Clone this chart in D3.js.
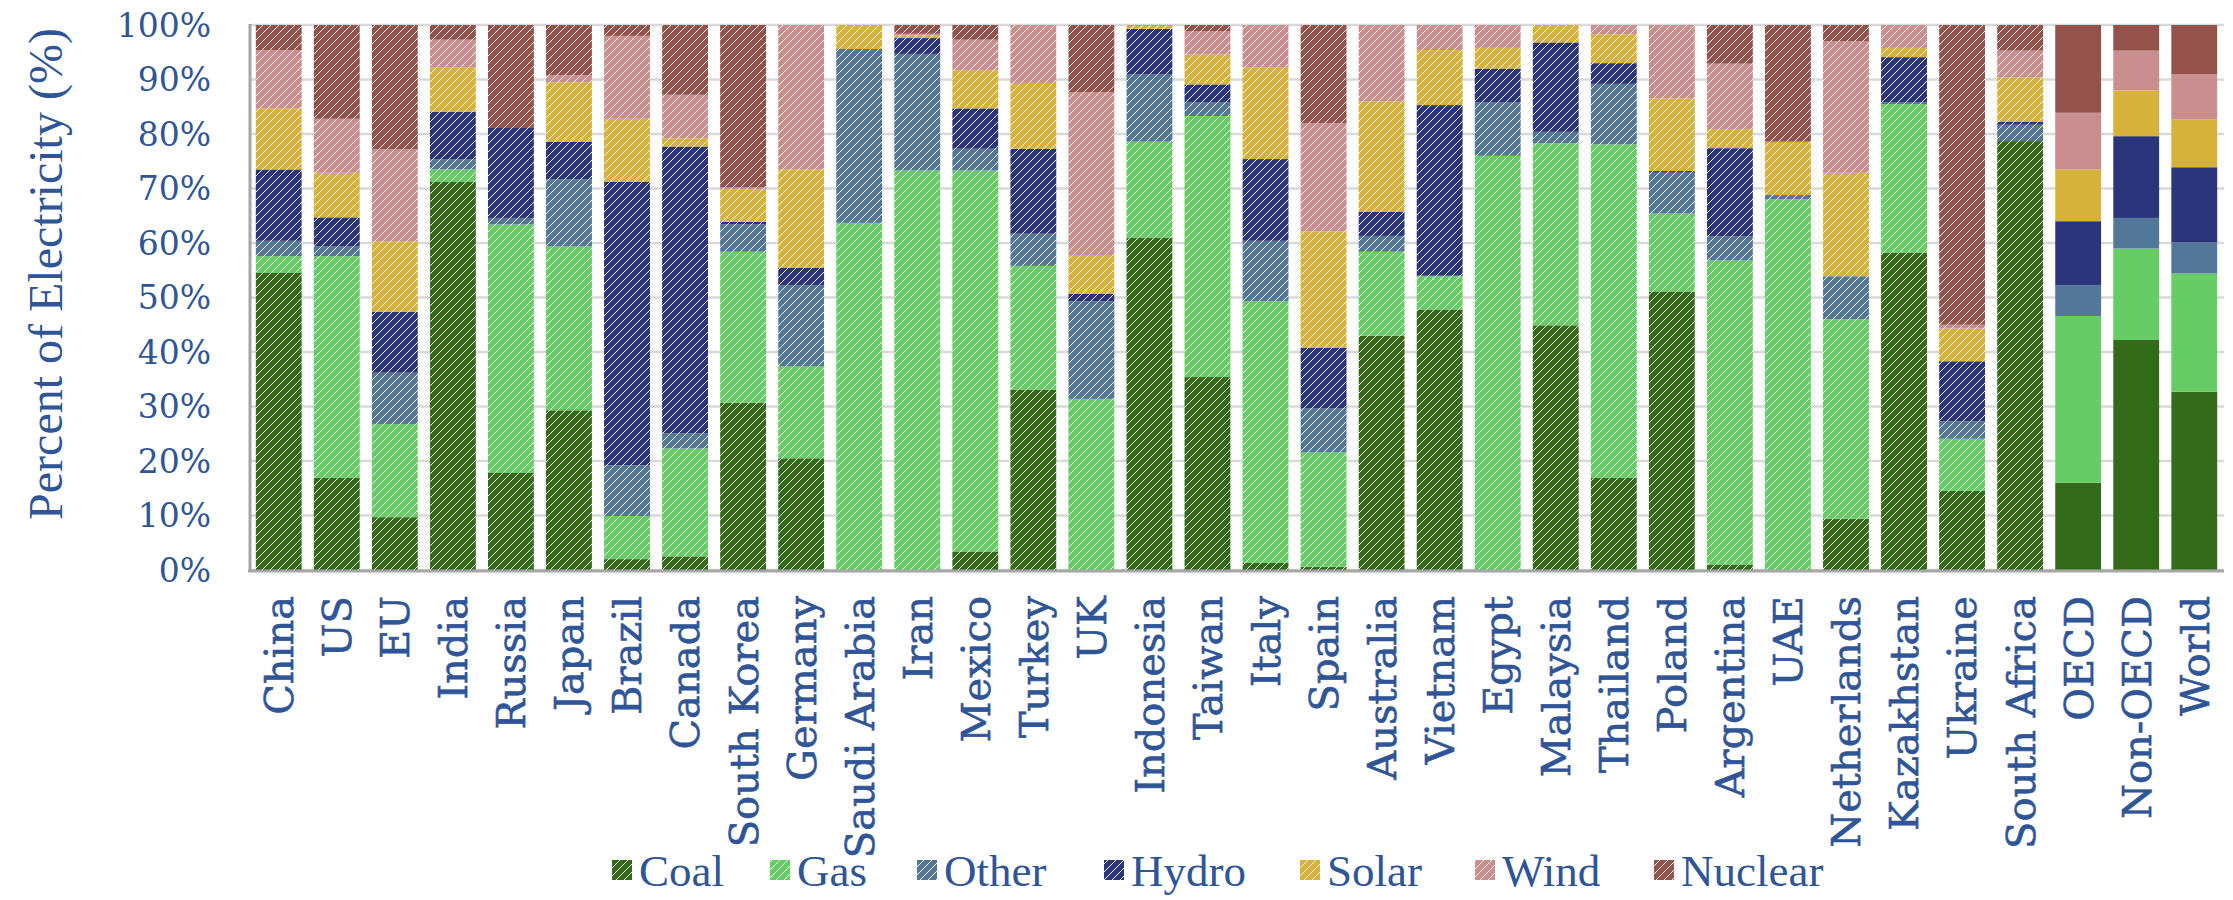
<!DOCTYPE html>
<html>
<head>
<meta charset="utf-8">
<script src="https://cdn.jsdelivr.net/npm/d3@7"></script>
<style>
  html, body { margin: 0; padding: 0; background: #ffffff; }
  svg { display: block; }
</style>
</head>
<body>
<svg id="chart" width="2233" height="900"></svg>
<script>
const categories = ["China","US","EU","India","Russia","Japan","Brazil","Canada","South Korea","Germany","Saudi Arabia","Iran","Mexico","Turkey","UK","Indonesia","Taiwan","Italy","Spain","Australia","Vietnam","Egypt","Malaysia","Thailand","Poland","Argentina","UAE","Netherlands","Kazakhstan","Ukraine","South Africa","OECD","Non-OECD","World"];
const seriesNames = ["Coal","Gas","Other","Hydro","Solar","Wind","Nuclear"];
const coal    = [54.5,16.9, 9.7,71.2,17.8,29.3, 2.0, 2.5,30.7,20.5, 0.0, 0.0, 3.4,33.1, 0.0,61.0,35.4, 1.3, 0.6,43.0,47.8, 0.0,44.9,16.9,51.1, 1.0, 0.0, 9.4,58.2,14.5,78.7,16.0,42.2,32.7];
const gas     = [ 3.1,40.7,17.1, 2.3,45.6,30.1, 7.9,19.8,27.7,16.9,63.7,73.3,69.9,22.7,31.4,17.6,47.9,48.0,21.0,15.4, 6.1,76.0,33.4,61.2,14.3,55.8,68.0,36.6,27.3, 9.6, 0.0,30.6,16.8,21.7];
const other   = [ 2.8, 1.8, 9.4, 1.9, 1.2,12.3, 9.3, 2.8, 5.0,14.9,31.9,21.4, 4.0, 5.9,17.9,12.4, 2.5,11.1, 8.1, 2.9, 0.1, 9.8, 2.1,11.1, 7.5, 4.4, 0.8, 7.9, 0.3, 3.2, 3.0, 5.6, 5.6, 5.7];
const hydro   = [13.1, 5.3,11.2, 8.7,16.5, 6.9,52.0,52.6, 0.5, 3.2, 0.0, 2.9, 7.4,15.6, 1.4, 8.3, 3.3,15.0,11.1, 4.4,31.3, 6.2,16.4, 3.8, 0.3,16.2, 0.0, 0.0, 8.3,11.0, 0.5,11.8,15.0,13.8];
const solar   = [11.2, 8.2,12.9, 8.1, 0.0,10.9,11.6, 1.5, 5.9,18.0, 4.4, 0.5, 7.0,11.9, 7.1, 0.5, 5.5,16.8,21.3,20.3,10.1, 3.8, 3.2, 5.3,13.3, 3.5, 9.8,19.0, 1.7, 6.0, 8.2, 9.5, 8.4, 8.8];
const wind    = [10.7, 9.9,16.9, 5.1, 0.0, 1.3,15.2, 8.0, 0.4,26.5, 0.0, 0.3, 5.6,10.8,29.9, 0.2, 4.3, 7.8,19.9,14.0, 4.6, 4.2, 0.0, 1.7,13.5,12.0, 0.0,24.1, 4.2, 0.7, 4.9,10.4, 7.3, 8.3];
const nuclear = [ 4.6,17.2,22.8, 2.7,18.9, 9.2, 2.0,12.8,29.8, 0.0, 0.0, 1.6, 2.7, 0.0,12.3, 0.0, 1.1, 0.0,18.0, 0.0, 0.0, 0.0, 0.0, 0.0, 0.0, 7.1,21.4, 3.0, 0.0,55.0, 4.7,16.1, 4.7, 9.0];
const solidCategories = ["OECD","Non-OECD","World"];
const yTicks = [0,10,20,30,40,50,60,70,80,90,100];
const yTickLabels = ["0%","10%","20%","30%","40%","50%","60%","70%","80%","90%","100%"];
const colors = ["#346b1b","#66cc66","#527799","#2b357b","#d6b23a","#cb8e8e","#93524a"];

const seriesValues = [coal, gas, other, hydro, solar, wind, nuclear];
const rows = categories.map((c, i) => {
  const r = { category: c };
  seriesNames.forEach((s, j) => r[s] = seriesValues[j][i]);
  return r;
});

const textColor = "#2f5597";
const svg = d3.select("#chart");

const x = d3.scaleBand().domain(categories).range([250, 2223]).paddingInner(0.21).paddingOuter(0.1);
const y = d3.scaleLinear().domain([0, 100]).range([570, 25]);

// hatch patterns
const defs = svg.append("defs");
seriesNames.forEach((s, j) => {
  const p = defs.append("pattern")
    .attr("id", "hatch" + j)
    .attr("patternUnits", "userSpaceOnUse")
    .attr("width", 8).attr("height", 8);
  p.append("rect").attr("width", 8).attr("height", 8).attr("fill", colors[j]);
  p.append("path")
    .attr("d", "M-2,2 L2,-2 M0,8 L8,0 M6,10 L10,6")
    .attr("stroke", "#ffffff")
    .attr("stroke-width", 1.4)
    .attr("shape-rendering", "crispEdges");
});

// gridlines
svg.append("g").selectAll("line").data(yTicks).join("line")
  .attr("x1", 250).attr("x2", 2224)
  .attr("y1", d => y(d)).attr("y2", d => y(d))
  .attr("stroke", "#d9d9d9").attr("stroke-width", 2.5);

// stacked bars
const stacked = d3.stack().keys(seriesNames)(rows);
svg.append("g").selectAll("g").data(stacked).join("g")
  .each(function(layer, j) {
    d3.select(this).selectAll("rect").data(layer).join("rect")
      .attr("x", d => x(d.data.category))
      .attr("width", x.bandwidth())
      .attr("y", d => y(d[1]))
      .attr("height", d => Math.max(0, y(d[0]) - y(d[1])))
      .attr("fill", d => solidCategories.includes(d.data.category) ? colors[j] : "url(#hatch" + j + ")");
  });

// axes lines
svg.append("line").attr("x1", 250).attr("x2", 250).attr("y1", 24).attr("y2", 571)
  .attr("stroke", "#a6a6a6").attr("stroke-width", 3);
svg.append("line").attr("x1", 248).attr("x2", 2224).attr("y1", 571).attr("y2", 571)
  .attr("stroke", "#a6a6a6").attr("stroke-width", 3);

// y tick labels
svg.append("g").selectAll("text").data(yTicks).join("text")
  .attr("x", 211).attr("y", d => y(d))
  .attr("dy", "0.36em")
  .attr("text-anchor", "end")
  .attr("font-family", "DejaVu Serif")
  .attr("font-size", 33)
  .attr("fill", textColor)
  .text((d, i) => yTickLabels[i]);

// y axis title
svg.append("text")
  .attr("transform", "translate(62,274) rotate(-90)")
  .attr("text-anchor", "middle")
  .attr("font-family", "Liberation Serif")
  .attr("font-size", 48)
  .attr("fill", textColor)
  .text("Percent of Electricity (%)");

// category labels
svg.append("g").selectAll("text").data(categories).join("text")
  .attr("transform", d => `translate(${x(d) + x.bandwidth() / 2},596) rotate(-90)`)
  .attr("dy", "0.36em")
  .attr("text-anchor", "end")
  .attr("font-family", "DejaVu Serif")
  .attr("font-size", 40)
  .attr("fill", textColor)
  .attr("stroke", textColor)
  .attr("stroke-width", 0.6)
  .text(d => d);

// legend
const legendX = [612, 770, 917, 1104, 1300, 1475, 1654];
const legend = svg.append("g");
seriesNames.forEach((s, j) => {
  legend.append("rect")
    .attr("x", legendX[j]).attr("y", 860)
    .attr("width", 20).attr("height", 20)
    .attr("fill", "url(#hatch" + j + ")");
  legend.append("text")
    .attr("x", legendX[j] + 27).attr("y", 870)
    .attr("dy", "0.35em")
    .attr("font-family", "Liberation Serif")
    .attr("font-size", 45)
    .attr("fill", textColor)
    .text(s);
});
</script>
</body>
</html>
